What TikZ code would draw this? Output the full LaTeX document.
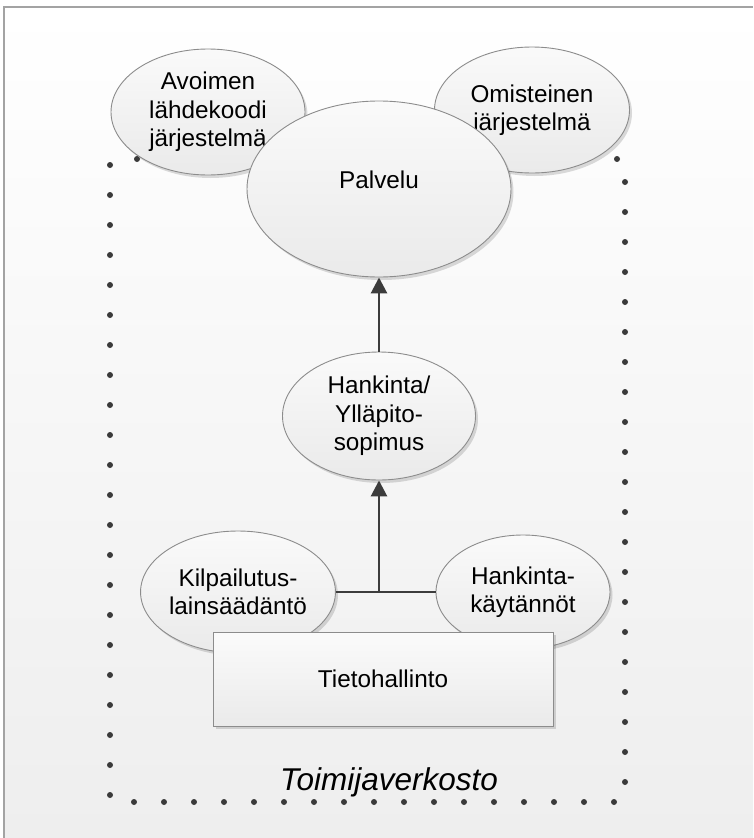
\documentclass[tikz,border=0pt]{standalone}
\usepackage{fontspec}
\setmainfont{Liberation Sans}
\usetikzlibrary{shapes.geometric,arrows.meta,shadows}

\definecolor{edgegray}{HTML}{8C8C8C}
\definecolor{linedark}{HTML}{3C3C3C}
\definecolor{dotdark}{HTML}{3A3A3A}
\definecolor{bgbottom}{HTML}{EEEEEE}
\definecolor{fillbottom}{HTML}{EAEAEA}

\tikzset{
  x=1pt, y=-1pt,
  labelfont/.style={font=\fontsize{24.3}{28.5}\selectfont},
  bubble/.style={ellipse, draw=edgegray, line width=0.9pt, inner sep=0pt,
    top color=white!75!fillbottom, bottom color=fillbottom,
    drop shadow={shadow xshift=2.5pt, shadow yshift=-3pt, opacity=0.14, fill=black},
    align=center, labelfont},
  boxnode/.style={rectangle, draw=edgegray, line width=0.9pt, inner sep=0pt,
    top color=white!80!fillbottom, bottom color=fillbottom,
    drop shadow={shadow xshift=2.5pt, shadow yshift=-3pt, opacity=0.14, fill=black},
    labelfont},
  link/.style={draw=linedark, line width=2.8pt},
  arr/.style={link, -{Triangle[length=16pt, width=16pt]}},
  netdot/.style={fill=dotdark},
}

\begin{document}
\begin{tikzpicture}
  % page and background
  \useasboundingbox (0,0) rectangle (753,838);
  \fill[white] (0,0) rectangle (753,838);
  \shade[top color=white, bottom color=bgbottom] (4,7) rectangle (753,838);
  \draw[edgegray!80, line width=1.6pt] (4,838) -- (4,7) -- (753,7);

  % dotted frame of the actor network
  \foreach \y in {165,195,...,795} \fill[netdot] (110,\y) circle (3pt);
  \foreach \y in {182,212,...,782} \fill[netdot] (625,\y) circle (3pt);
  \foreach \x in {134,164,...,614} \fill[netdot] (\x,802) circle (3pt);
  \foreach \x in {137,167,...,617} \fill[netdot] (\x,159) circle (3pt);
  \node[font=\fontsize{31.5}{36}\selectfont\itshape, anchor=base] (net) at (389,790) {Toimijaverkosto};

  % top row of systems and the service
  \node[bubble, minimum width=194pt, minimum height=126pt] (avo) at (208,112)
    {Avoimen\\lähdekoodi\\järjestelmä};
  \node[bubble, minimum width=195pt, minimum height=126pt] (omi) at (532,110)
    {Omisteinen\\järjestelmä};
  \node[bubble, minimum width=264pt, minimum height=176pt] (palv) at (379,189) {};
  \node[labelfont] (palvt) at (379,180) {Palvelu};

  % contract
  \node[bubble, minimum width=193pt, minimum height=128pt] (hank) at (379,416)
    {Hankinta/\\Ylläpito-\\sopimus};

  % legislation and practices
  \node[bubble, minimum width=184pt, minimum height=122pt] (kilp) at (238,592)
    {Kilpailutus-\\lainsäädäntö};
  \node[bubble, minimum width=174pt, minimum height=114pt] (hkay) at (523,592)
    {Hankinta-\\käytännöt};

  % information management box
  \node[boxnode, minimum width=340pt, minimum height=94pt] (tieto) at (383,679) {Tietohallinto};

  % connectors
  \coordinate (join) at (379,592);
  \draw[link] (kilp.east) -- (hkay.west);
  \draw[arr] (join) -- (hank.south);
  \draw[arr] (hank.north) -- (palv.south);
\end{tikzpicture}
\end{document}
